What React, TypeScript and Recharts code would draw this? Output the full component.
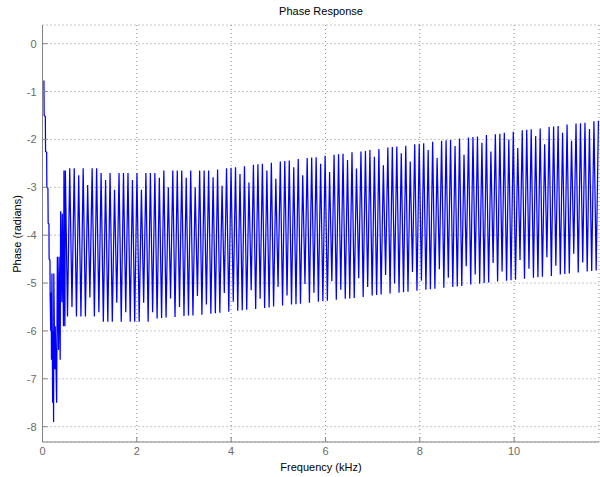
import React from 'react';
import { LineChart, Line, XAxis, YAxis, CartesianGrid } from 'recharts';

// Irregular low-frequency region (kHz, radians)
const earlyFreq = [0.03, 0.035, 0.06, 0.065, 0.088, 0.092, 0.115, 0.12, 0.137, 0.14, 0.158, 0.162,
  0.175, 0.185, 0.19, 0.2, 0.215, 0.225, 0.235, 0.24, 0.26, 0.27, 0.3, 0.315, 0.34, 0.35, 0.375, 0.385, 0.41, 0.42, 0.445, 0.455, 0.475, 0.485];
const earlyPhase = [-0.77, -1.5, -1.52, -2.25, -2.27, -3.0, -3.02, -3.75, -3.77, -4.5, -4.52, -5.25,
  -6.0, -5.2, -6.6, -4.8, -7.5, -6.0, -7.9, -4.8, -6.8, -5.9, -7.5, -4.45, -6.4, -4.45, -6.6, -3.5, -5.4, -3.55, -5.9, -2.65, -5.9, -2.65];

// Sawtooth teeth: frequency grid start / spacing (kHz)
const toothStart = 0.53;
const toothStep = 0.095;

// Per-tooth lower extreme (radians)
const toothBottom = [
  -5.70, -5.50, -5.70, -5.70, -5.70, -5.30, -5.70, -5.61, -5.81, -5.81,
  -5.81, -5.41, -5.81, -5.61, -5.81, -5.81, -5.81, -5.41, -5.81, -5.61,
  -5.74, -5.73, -5.72, -5.32, -5.71, -5.50, -5.69, -5.68, -5.68, -5.27,
  -5.66, -5.45, -5.64, -5.63, -5.62, -5.21, -5.60, -5.39, -5.58, -5.57,
  -5.56, -5.15, -5.54, -5.33, -5.52, -5.51, -5.49, -5.08, -5.47, -5.26,
  -5.45, -5.44, -5.43, -5.02, -5.41, -5.20, -5.39, -5.38, -5.37, -4.96,
  -5.35, -5.14, -5.33, -5.32, -5.31, -4.90, -5.29, -5.08, -5.26, -5.25,
  -5.24, -4.83, -5.22, -5.01, -5.20, -5.19, -5.18, -4.77, -5.16, -4.95,
  -5.14, -5.13, -5.12, -4.71, -5.10, -4.89, -5.08, -5.07, -5.06, -4.65,
  -5.03, -4.82, -5.01, -5.00, -4.99, -4.58, -4.97, -4.76, -4.95, -4.94,
  -4.93, -4.52, -4.91, -4.70, -4.89, -4.88, -4.87, -4.46, -4.85, -4.64,
  -4.82, -4.81, -4.80, -4.39, -4.78, -4.57, -4.76, -4.75, -4.74,
];

// Per-tooth upper extreme (radians)
const toothTop = [
  -2.60, -2.60, -2.75, -2.60, -2.95, -2.60, -2.60, -2.70, -2.85, -2.70,
  -3.05, -2.70, -2.70, -2.70, -2.85, -2.70, -3.05, -2.70, -2.70, -2.70,
  -2.80, -2.65, -3.00, -2.65, -2.65, -2.65, -2.80, -2.65, -3.00, -2.65,
  -2.65, -2.65, -2.79, -2.63, -2.97, -2.60, -2.59, -2.58, -2.72, -2.56,
  -2.90, -2.53, -2.52, -2.51, -2.65, -2.49, -2.82, -2.46, -2.45, -2.44,
  -2.58, -2.41, -2.75, -2.39, -2.38, -2.37, -2.51, -2.34, -2.68, -2.32,
  -2.31, -2.30, -2.43, -2.27, -2.61, -2.25, -2.24, -2.22, -2.36, -2.20,
  -2.54, -2.17, -2.16, -2.15, -2.29, -2.13, -2.46, -2.10, -2.09, -2.08,
  -2.22, -2.05, -2.39, -2.03, -2.02, -2.01, -2.14, -1.98, -2.32, -1.96,
  -1.95, -1.94, -2.07, -1.91, -2.25, -1.89, -1.88, -1.86, -2.00, -1.84,
  -2.18, -1.81, -1.80, -1.79, -1.93, -1.77, -2.10, -1.74, -1.73, -1.72,
  -1.86, -1.69, -2.03, -1.67, -1.66, -1.65, -1.78, -1.62, -1.61,
];

const xTicks = [0, 2, 4, 6, 8, 10];
const yTicks = [0, -1, -2, -3, -4, -5, -6, -7, -8];

const data: { f: number; v: number }[] = [];
earlyFreq.forEach((f, i) => data.push({ f, v: earlyPhase[i] }));
toothBottom.forEach((b, i) => {
  const f = toothStart + i * toothStep;
  data.push({ f, v: b });
  data.push({ f: f + toothStep / 2, v: toothTop[i] });
});

const FONT = '"Liberation Sans", Arial, Helvetica, sans-serif';
const AXIS = '#858585';
const TICKTXT = '#6a6a6a';

const BottomTick = (props: any) => {
  const { x, y, payload } = props;
  return (
    <g>
      <line x1={x} y1={y} x2={x} y2={y - 5} stroke={AXIS} />
      <text x={x} y={y + 13} textAnchor="middle" fill={TICKTXT} fontSize={11} fontFamily={FONT}>
        {payload.value}
      </text>
    </g>
  );
};
const TopTick = (props: any) => {
  const { x, y } = props;
  return <line x1={x} y1={y} x2={x} y2={y + 5} stroke={AXIS} />;
};
const LeftTick = (props: any) => {
  const { x, y, payload } = props;
  return (
    <g>
      <line x1={x} y1={y} x2={x + 5} y2={y} stroke={AXIS} />
      <text x={x - 6} y={y + 4} textAnchor="end" fill={TICKTXT} fontSize={11} fontFamily={FONT}>
        {payload.value}
      </text>
    </g>
  );
};
const RightTick = (props: any) => {
  const { x, y } = props;
  return <line x1={x} y1={y} x2={x - 5} y2={y} stroke={AXIS} />;
};

export default function App() {
  return (
    <div style={{ position: 'absolute', left: 0, top: 0, width: 600, height: 477, background: '#fff' }}>
      <LineChart width={600} height={477} data={data} margin={{ top: 25, right: 1, bottom: 0, left: 0 }}>
        <CartesianGrid stroke="#8a8a8a" strokeDasharray="1 3" />
        <XAxis
          dataKey="f"
          type="number"
          domain={[0, 11.8]}
          ticks={xTicks}
          allowDataOverflow
          height={35}
          tickSize={0}
          tickMargin={0}
          tickLine={false}
          axisLine={{ stroke: AXIS }}
          tick={<BottomTick />}
          interval={0}
        />
        <XAxis
          xAxisId="top"
          orientation="top"
          dataKey="f"
          type="number"
          domain={[0, 11.8]}
          ticks={xTicks}
          allowDataOverflow
          height={0}
          tickSize={0}
          tickMargin={0}
          tickLine={false}
          axisLine={{ stroke: AXIS }}
          tick={<TopTick />}
          interval={0}
        />
        <YAxis
          type="number"
          domain={[-8.32, 0.39]}
          ticks={yTicks}
          allowDataOverflow
          width={42.5}
          tickSize={0}
          tickMargin={0}
          tickLine={false}
          axisLine={{ stroke: AXIS }}
          tick={<LeftTick />}
          interval={0}
        />
        <YAxis
          yAxisId="right"
          orientation="right"
          type="number"
          domain={[-8.32, 0.39]}
          ticks={yTicks}
          allowDataOverflow
          width={0}
          tickSize={0}
          tickMargin={0}
          tickLine={false}
          axisLine={{ stroke: AXIS }}
          tick={<RightTick />}
          interval={0}
        />
        <Line
          dataKey="v"
          type="linear"
          stroke="#0000ff"
          strokeWidth={1.25}
          dot={false}
          activeDot={false}
          isAnimationActive={false}
        />
      </LineChart>
      <svg width={600} height={477} style={{ position: 'absolute', left: 0, top: 0, pointerEvents: 'none' }}>
        <text x={321} y={15} textAnchor="middle" fontSize={11} fontFamily={FONT} fill="#000">
          Phase Response
        </text>
        <text x={321} y={471} textAnchor="middle" fontSize={11} fontFamily={FONT} fill="#000">
          Frequency (kHz)
        </text>
        <text
          x={21}
          y={234}
          textAnchor="middle"
          fontSize={11}
          fontFamily={FONT}
          fill="#000"
          transform="rotate(-90 21 234)"
        >
          Phase (radians)
        </text>
      </svg>
    </div>
  );
}
